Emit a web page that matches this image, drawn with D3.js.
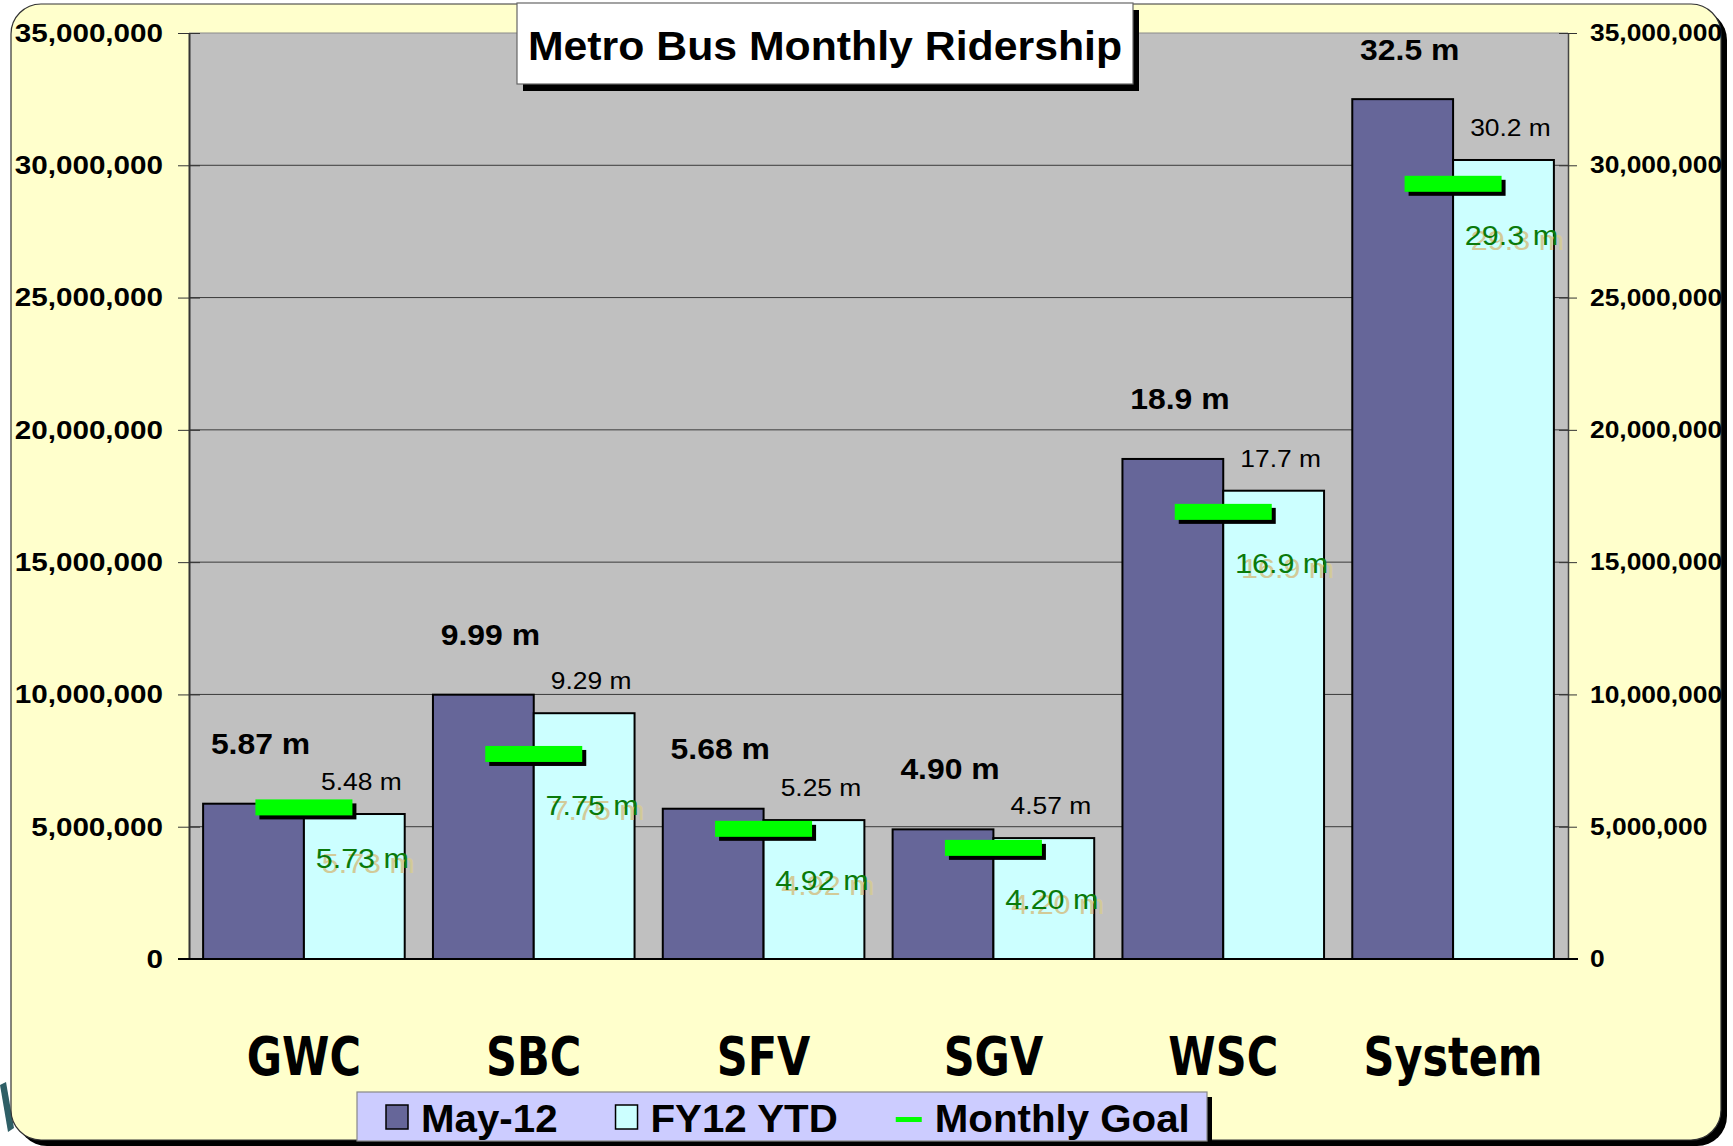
<!DOCTYPE html>
<html>
<head>
<meta charset="utf-8">
<script src="https://cdn.jsdelivr.net/npm/d3@7"></script>
<style>
  body { margin: 0; background: #fff; }
  svg { display: block; font-family: Arial, "Liberation Sans", sans-serif; }
</style>
</head>
<body>
<script>
// data
const categories = ['GWC', 'SBC', 'SFV', 'SGV', 'WSC', 'System'];
const may12 = [5870000, 9990000, 5680000, 4900000, 18900000, 32500000];
const fy12ytd = [5480000, 9290000, 5250000, 4570000, 17700000, 30200000];
const monthlyGoal = [5730000, 7750000, 4920000, 4200000, 16900000, 29300000];
const yTicks = [0, 5000000, 10000000, 15000000, 20000000, 25000000, 30000000, 35000000];
const legendNames = ['May-12', 'FY12 YTD', 'Monthly Goal'];

const W = 1733, H = 1146;
const margin = {left: 189, right: 165, top: 33, bottom: 187};
const width = W - margin.left - margin.right,
    height = H - margin.top - margin.bottom;

const colors = {dark: '#666699', light: '#ccffff', goal: '#00ff00', plot: '#c0c0c0', frame: '#ffffcc'};

const rows = categories.map((c, i) => ({cat: c, may: may12[i], fy: fy12ytd[i], goal: monthlyGoal[i]}));

const svg = d3.select('body').append('svg')
    .attr('width', W)
    .attr('height', H);

// slide decoration peeking out at bottom left
svg.append('path')
    .attr('d', 'M0,1085 L6,1082 L14,1128 L8,1132 Z')
    .attr('fill', '#2f5f66');

// outer rounded frame with shadow
svg.append('rect')
    .attr('x', 17).attr('y', 10)
    .attr('width', 1710).attr('height', 1136)
    .attr('rx', 30)
    .attr('fill', '#000');
svg.append('rect')
    .attr('x', 11).attr('y', 4)
    .attr('width', 1710).attr('height', 1136)
    .attr('rx', 30)
    .attr('fill', colors.frame)
    .attr('stroke', '#333')
    .attr('stroke-width', 1.2);

// scales
const x = d3.scaleBand().domain(categories).range([0, width]);
const xs = d3.scaleBand().domain(['may', 'fy']).range([0, x.bandwidth()]).paddingOuter(0.14);
const y = d3.scaleLinear().domain([0, 35000000]).range([height, 0]);

const g = svg.append('g')
    .attr('transform', 'translate(' + margin.left + ',' + margin.top + ')');

g.append('rect')
    .attr('width', width)
    .attr('height', height)
    .attr('fill', colors.plot);

// gridlines
g.selectAll('.grid')
    .data(yTicks.filter(d => d > 0))
    .enter()
    .append('line')
    .attr('class', 'grid')
    .attr('x1', 0).attr('x2', width)
    .attr('y1', d => y(d)).attr('y2', d => y(d))
    .attr('stroke', d => d === 35000000 ? '#8a8a8a' : '#3a3a3a')
    .attr('stroke-width', 1);

// left axis
const yAxisL = d3.axisLeft(y).tickValues(yTicks).tickFormat(d3.format(',')).tickSizeOuter(0);
const gL = g.append('g').call(yAxisL);
gL.select('.domain').attr('stroke', '#333').attr('stroke-width', 2);
gL.selectAll('.tick line').attr('x1', 11).attr('x2', -11).attr('stroke', '#333');
gL.selectAll('.tick text')
    .attr('x', 0)
    .attr('transform', 'translate(-26,0) scale(1.14,1)')
    .style('font-size', '26px')
    .style('font-weight', 'bold')
    .attr('fill', '#000');

// right axis
const yAxisR = d3.axisRight(y).tickValues(yTicks).tickFormat(d3.format(',')).tickSizeOuter(0);
const gR = g.append('g').attr('transform', 'translate(' + width + ',0)').call(yAxisR);
gR.select('.domain').attr('stroke', '#444').attr('stroke-width', 1.5);
gR.selectAll('.tick line').attr('x1', -9).attr('x2', 9).attr('stroke', '#333');
gR.selectAll('.tick text')
    .attr('x', 0)
    .attr('transform', 'translate(22,0) scale(1.1,1)')
    .style('font-size', '24px')
    .style('font-weight', 'bold')
    .attr('fill', '#000');

// bars
const grp = g.selectAll('.cat')
    .data(rows)
    .enter()
    .append('g')
    .attr('class', 'cat')
    .attr('transform', d => 'translate(' + x(d.cat) + ',0)');

grp.append('rect')
    .attr('x', xs('may'))
    .attr('y', d => y(d.may))
    .attr('width', xs.bandwidth())
    .attr('height', d => height - y(d.may))
    .attr('fill', colors.dark)
    .attr('stroke', '#000')
    .attr('stroke-width', 2);

grp.append('rect')
    .attr('x', xs('fy'))
    .attr('y', d => y(d.fy))
    .attr('width', xs.bandwidth())
    .attr('height', d => height - y(d.fy))
    .attr('fill', colors.light)
    .attr('stroke', '#000')
    .attr('stroke-width', 2);

// baseline
g.append('line')
    .attr('x1', -11).attr('x2', width + 10)
    .attr('y1', height).attr('y2', height)
    .attr('stroke', '#000')
    .attr('stroke-width', 2);

// monthly goal markers
const goalW = 97, goalH = 16;
grp.append('rect')
    .attr('x', x.bandwidth() / 2 - goalW / 2 + 4)
    .attr('y', d => y(d.goal) - goalH / 2 + 4)
    .attr('width', goalW).attr('height', goalH)
    .attr('fill', '#000');
grp.append('rect')
    .attr('x', x.bandwidth() / 2 - goalW / 2)
    .attr('y', d => y(d.goal) - goalH / 2)
    .attr('width', goalW).attr('height', goalH)
    .attr('fill', colors.goal);

// data labels
const fmt = v => d3.format('.3r')(v / 1e6) + ' m';
const mayCx = xs('may') + xs.bandwidth() / 2,
    fyCx = xs('fy') + xs.bandwidth() / 2;

grp.append('text')
    .text(d => fmt(d.may))
    .attr('text-anchor', 'middle')
    .attr('transform', d => 'translate(' + (mayCx + 7) + ',' + Math.max(y(d.may) - 50, 27) + ') scale(1.1,1)')
    .style('font-size', '29px')
    .style('font-weight', 'bold')
    .attr('fill', '#000');

grp.append('text')
    .text(d => fmt(d.fy))
    .attr('text-anchor', 'middle')
    .attr('transform', d => 'translate(' + (fyCx + 7) + ',' + (y(d.fy) - 24) + ') scale(1.1,1)')
    .style('font-size', '24px')
    .attr('fill', '#000');

// goal labels: pale ghost behind, green on top
grp.append('text')
    .text(d => fmt(d.goal))
    .attr('text-anchor', 'middle')
    .attr('transform', d => 'translate(' + (fyCx + 14) + ',' + (y(d.goal) + 66) + ') scale(1.13,1)')
    .style('font-size', '27px')
    .attr('fill', '#d2ca98');
grp.append('text')
    .text(d => fmt(d.goal))
    .attr('text-anchor', 'middle')
    .attr('transform', d => 'translate(' + (fyCx + 8) + ',' + (y(d.goal) + 61) + ') scale(1.13,1)')
    .style('font-size', '27px')
    .attr('fill', '#0a7a0a');

// category labels
const xAxis = d3.axisBottom(x).tickSize(0);
const gX = g.append('g').attr('transform', 'translate(0,' + height + ')').call(xAxis);
gX.select('.domain').remove();
gX.selectAll('.tick text')
    .attr('y', 0).attr('dy', 0)
    .attr('transform', 'translate(0,116) scale(1,1.22)')
    .style('font-family', '"Comic Sans MS", "DejaVu Sans", sans-serif')
    .style('font-size', '43px')
    .style('font-weight', 'bold')
    .attr('fill', '#000');

// title box
const title = svg.append('g');
title.append('rect')
    .attr('x', 523).attr('y', 10)
    .attr('width', 616).attr('height', 81)
    .attr('fill', '#000');
title.append('rect')
    .attr('x', 517).attr('y', 3)
    .attr('width', 616).attr('height', 81)
    .attr('fill', '#fff')
    .attr('stroke', '#666')
    .attr('stroke-width', 1.2);
title.append('text')
    .text('Metro Bus Monthly Ridership')
    .attr('text-anchor', 'middle')
    .attr('transform', 'translate(825,60) scale(1.07,1)')
    .style('font-size', '40px')
    .style('font-weight', 'bold')
    .attr('fill', '#000');

// legend
const lg = svg.append('g');
lg.append('rect')
    .attr('x', 362).attr('y', 1097)
    .attr('width', 850).attr('height', 49)
    .attr('fill', '#000');
lg.append('rect')
    .attr('x', 357).attr('y', 1092)
    .attr('width', 850).attr('height', 49)
    .attr('fill', '#ccccff')
    .attr('stroke', '#888')
    .attr('stroke-width', 1.2);

const keyFills = [colors.dark, colors.light, colors.goal];
let lx = 386;
legendNames.forEach(function(name, i) {
    if (i < 2) {
        lg.append('rect')
            .attr('x', lx).attr('y', 1105)
            .attr('width', 22).attr('height', 24)
            .attr('fill', keyFills[i])
            .attr('stroke', '#000')
            .attr('stroke-width', 1.5);
    } else {
        lg.append('rect')
            .attr('x', lx).attr('y', 1117)
            .attr('width', 26).attr('height', 5)
            .attr('fill', keyFills[i]);
    }
    lx += (i < 2 ? 22 : 26) + 13;
    const t = lg.append('text')
        .text(name)
        .attr('transform', 'translate(' + lx + ',1132) scale(1.06,1)')
        .style('font-size', '38px')
        .style('font-weight', 'bold')
        .attr('fill', '#000');
    lx += t.node().getComputedTextLength() * 1.06 + 58;
});
</script>
</body>
</html>
